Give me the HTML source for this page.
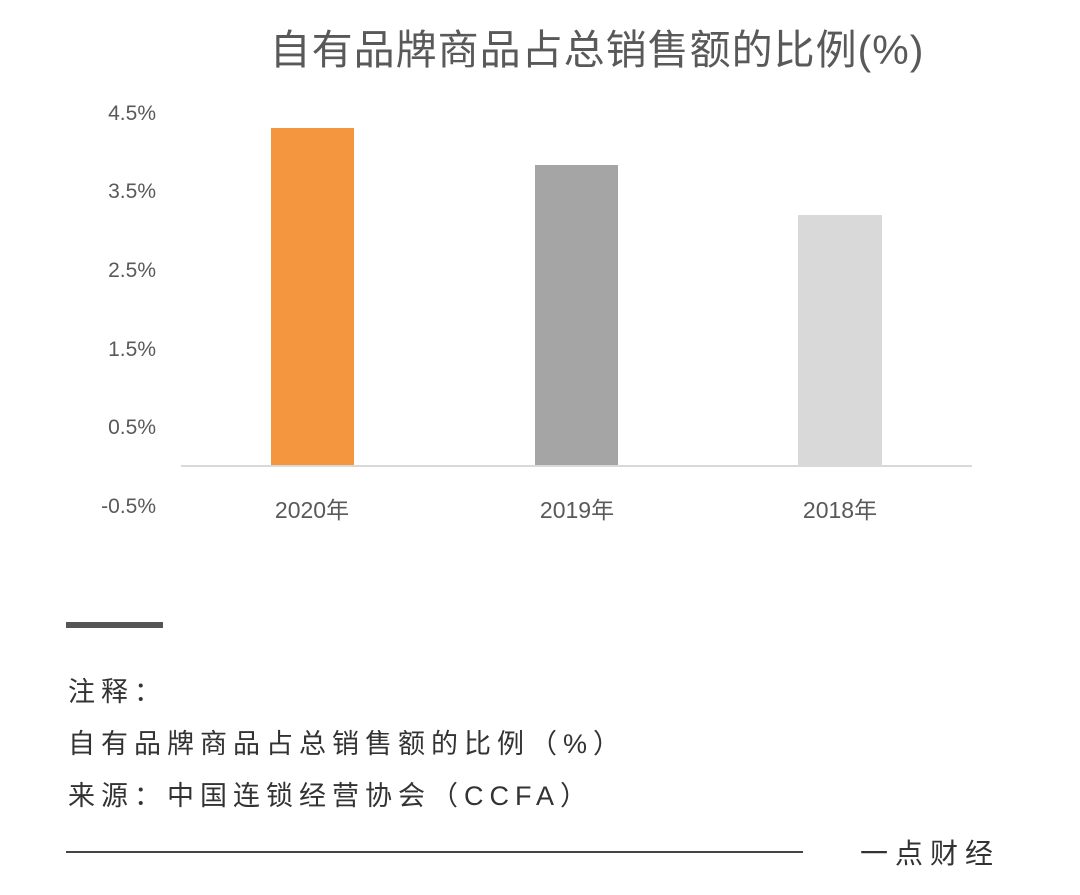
<!DOCTYPE html>
<html><head><meta charset="utf-8"><style>
body{margin:0;width:1080px;height:895px;background:#fff;position:relative;overflow:hidden;font-family:"Liberation Sans","Noto Sans CJK SC",sans-serif;}
.a{position:absolute;white-space:nowrap;}
.yl{position:absolute;left:80px;width:76px;text-align:right;font-size:21px;color:#595959;}
.xl{position:absolute;width:120px;text-align:center;font-size:23px;color:#595959;top:491px;}
.bar{position:absolute;}
.n{font-size:27px;color:#333;letter-spacing:6px;left:68px;}
</style></head><body>
<div class="a" style="left:0;width:1194px;text-align:center;top:16px;font-size:41px;color:#595959;letter-spacing:1px;">自有品牌商品占总销售额的比例(%)</div>
<div class="yl" style="top:102px">4.5%</div>
<div class="yl" style="top:180px">3.5%</div>
<div class="yl" style="top:259px">2.5%</div>
<div class="yl" style="top:338px">1.5%</div>
<div class="yl" style="top:416px">0.5%</div>
<div class="yl" style="top:495px">-0.5%</div>
<div class="bar" style="left:271px;width:83px;top:128px;height:338px;background:#F4953F"></div>
<div class="bar" style="left:535px;width:83px;top:165px;height:301px;background:#A5A5A5"></div>
<div class="bar" style="left:798px;width:84px;top:215px;height:251px;background:#D9D9D9"></div>
<div class="bar" style="left:181px;width:791px;top:465px;height:2px;background:#D9D9D9"></div>
<div class="xl" style="left:252px">2020年</div>
<div class="xl" style="left:517px">2019年</div>
<div class="xl" style="left:780px">2018年</div>
<div class="bar" style="left:66px;width:97px;top:622px;height:6px;background:#555"></div>
<div class="a n" style="top:670px">注释：</div>
<div class="a n" style="top:722px">自有品牌商品占总销售额的比例（%）</div>
<div class="a n" style="top:774px">来源：中国连锁经营协会（CCFA）</div>
<div class="bar" style="left:66px;width:737px;top:851px;height:2px;background:#444"></div>
<div class="a" style="left:860px;top:832px;font-size:28px;color:#333;letter-spacing:7px;">一点财经</div>
</body></html>
